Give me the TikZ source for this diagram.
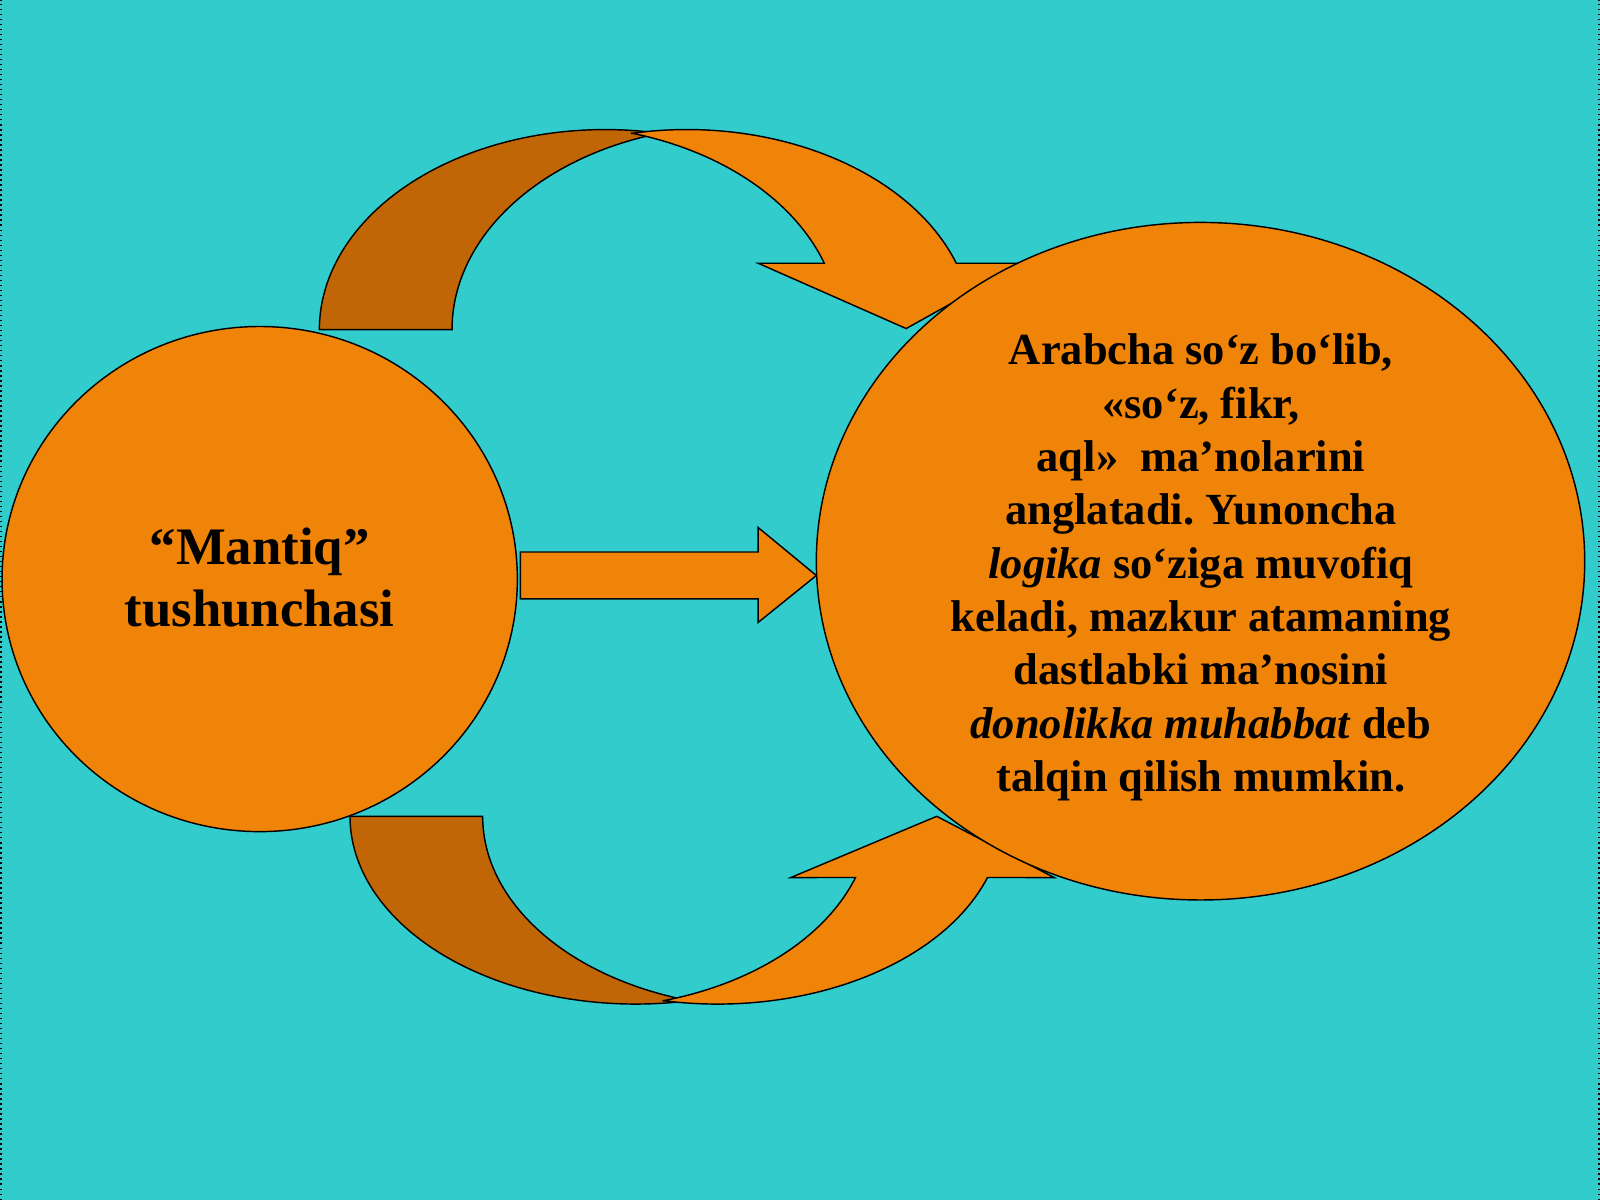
\documentclass[tikz,border=0pt]{standalone}
\usepackage{fontspec}
\setmainfont{Liberation Serif}
\usepackage{tikz}
\usetikzlibrary{positioning,calc}
\definecolor{sea}{RGB}{51, 204, 204}
\definecolor{theme}{RGB}{240, 132, 8}
\definecolor{themedark}{RGB}{192, 102, 6}
\tikzset{
  band/.style={draw=black, thin, fill=theme},
  backband/.style={draw=black, thin, fill=themedark},
  edge/.style={draw=black, thin, densely dotted}
}
\frenchspacing

\begin{document}
\begin{tikzpicture}
      \fill[sea] (0,0) rectangle (15.68,11.76);
      \useasboundingbox (0,0) rectangle (15.68,11.76);
      \draw[edge] (0.01,0) -- (0.01,11.76);
      \draw[edge] (15.67,0) -- (15.67,11.76);

      \draw[backband] (3.13,8.53) arc[start angle=180, end angle=78.88, x radius=2.80, y radius=1.96]
        -- ([shift={(105.75:2.80 and 2.00)}]7.23,8.53) arc[start angle=105.75, end angle=180, x radius=2.80, y radius=2.00] -- cycle;

      \draw[band] ([shift={(101.12:2.80 and 1.96)}]6.73,8.53) arc[start angle=101.12, end angle=19.37, x radius=2.80, y radius=1.96]
        -- (10.03,9.18) -- (8.88,8.54) -- (7.43,9.18)
        -- ([shift={(18.97:2.80 and 2.00)}]5.43,8.53) arc[start angle=18.97, end angle=74.25, x radius=2.80, y radius=2.00] -- cycle;

      \draw[backband] (3.43,3.76) arc[start angle=180, end angle=280.91, x radius=2.80, y radius=1.84]
        -- ([shift={(254.04:2.80 and 1.88)}]7.53,3.76) arc[start angle=254.04, end angle=180, x radius=2.80, y radius=1.88] -- cycle;

      \draw[band] ([shift={(259.09:2.80 and 1.84)}]7.03,3.76) arc[start angle=259.09, end angle=340.97, x radius=2.80, y radius=1.84]
        -- (10.33,3.16) -- (9.18,3.76) -- (7.75,3.16)
        -- ([shift={(341.39:2.80 and 1.88)}]5.73,3.76) arc[start angle=341.39, end angle=285.96, x radius=2.80, y radius=1.88] -- cycle;

      \draw[band] (5.10,5.89) -- (7.43,5.89) -- (7.43,5.66) -- (8.00,6.12) -- (7.43,6.59) -- (7.43,6.35) -- (5.10,6.35) -- cycle;

      \draw[band] (2.545,6.085) ellipse (2.525cm and 2.475cm);
      \node[align=center, font=\bfseries\fontsize{14.7}{17.07}\selectfont] (term) at (2.545,6.10)
        {“Mantiq”\\tushunchasi};

      \draw[band] (11.765,6.26) ellipse (3.765cm and 3.32cm);
      \node[align=center, font=\bfseries\fontsize{12.4}{14.87}\selectfont] (meaning) at (11.77,6.20)
        {Arabcha so‘z bo‘lib,\\
         «so‘z, fikr,\\
         aql»\ \ ma’nolarini\\
         anglatadi. Yunoncha\\
         \textit{logika} so‘ziga muvofiq\\
         keladi, mazkur atamaning\\
         dastlabki ma’nosini\\
         \textit{donolikka muhabbat} deb\\
         talqin qilish mumkin.};
    \end{tikzpicture}
\end{document}
